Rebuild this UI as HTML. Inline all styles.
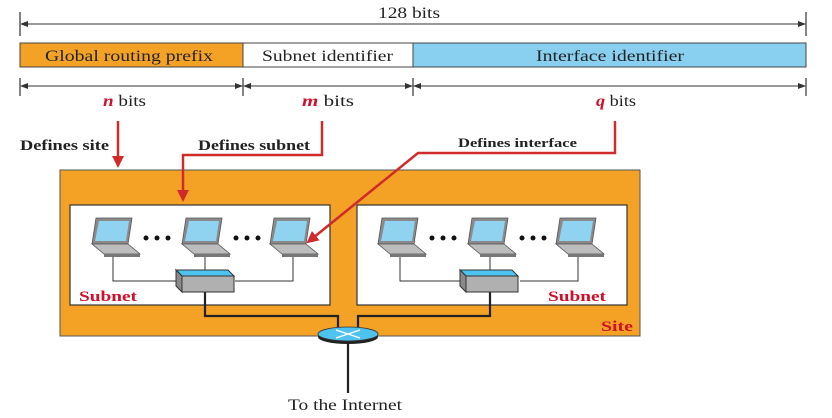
<!DOCTYPE html>
<html><head><meta charset="utf-8"><style>
html,body{margin:0;padding:0;background:#fff;}
svg{display:block;}
text{font-family:"Liberation Serif",serif;}
</style></head><body>
<svg width="832" height="418" viewBox="0 0 832 418" xmlns="http://www.w3.org/2000/svg">
<defs>
<marker id="ah" markerWidth="8" markerHeight="8" refX="7" refY="4" orient="auto-start-reverse" markerUnits="userSpaceOnUse"><path d="M0,1 L8,4 L0,7 Z" fill="#333"/></marker>
<marker id="rh" markerWidth="12" markerHeight="12" refX="10" refY="6" orient="auto" markerUnits="userSpaceOnUse"><path d="M0,0 L12,6 L0,12 Z" fill="#d12a2a"/></marker>
<g id="lap">
<path d="M8,0 L44,0 L40,26 L4,26 Z" fill="#8a8a8a" stroke="#555" stroke-width="0.8"/>
<path d="M11,3 L41,3 L38,23 L7,23 Z" fill="#8fd3f0"/>
<path d="M4,26 L40,26 L52,36 L16,36 Z" fill="#bdbdbd" stroke="#555" stroke-width="0.8"/>
<path d="M16,36 L52,36 L52,39 L16,39 Z" fill="#777"/>
</g>
<g id="sw">
<path d="M0,0 L52,0 L58,6 L6,6 Z" fill="#4fc3f0" stroke="#333" stroke-width="1"/>
<rect x="6" y="6" width="52" height="16" fill="#b0b0b0" stroke="#333" stroke-width="1"/>
<path d="M0,0 L6,6 L6,22 L0,16 Z" fill="#8a8a8a" stroke="#333" stroke-width="1"/>
</g>
</defs>
<line x1="20" y1="12" x2="20" y2="36" stroke="#333" stroke-width="1.2"/>
<line x1="806" y1="12" x2="806" y2="36" stroke="#333" stroke-width="1.2"/>
<line x1="21" y1="24" x2="805" y2="24" stroke="#333" stroke-width="1" marker-start="url(#ah)" marker-end="url(#ah)"/>
<text x="378" y="18" font-size="16" textLength="62" lengthAdjust="spacingAndGlyphs" fill="#222">128 bits</text>
<rect x="20" y="43" width="223" height="24" fill="#f4a226" stroke="#444" stroke-width="1"/>
<rect x="243" y="43" width="170" height="24" fill="#fff" stroke="#444" stroke-width="1"/>
<rect x="413" y="43" width="393" height="24" fill="#88cff0" stroke="#444" stroke-width="1"/>
<text x="45" y="61" font-size="16" textLength="168" lengthAdjust="spacingAndGlyphs" fill="#222">Global routing prefix</text>
<text x="262" y="61" font-size="16" textLength="131" lengthAdjust="spacingAndGlyphs" fill="#222">Subnet identifier</text>
<text x="536" y="61" font-size="16" textLength="148" lengthAdjust="spacingAndGlyphs" fill="#222">Interface identifier</text>
<g stroke="#333" stroke-width="1.2">
<line x1="20" y1="78" x2="20" y2="96"/><line x1="243" y1="78" x2="243" y2="96"/><line x1="413" y1="78" x2="413" y2="96"/><line x1="806" y1="78" x2="806" y2="96"/>
</g>
<g stroke="#333" stroke-width="1">
<line x1="21" y1="86" x2="242" y2="86" marker-start="url(#ah)" marker-end="url(#ah)"/>
<line x1="244" y1="86" x2="412" y2="86" marker-start="url(#ah)" marker-end="url(#ah)"/>
<line x1="414" y1="86" x2="805" y2="86" marker-start="url(#ah)" marker-end="url(#ah)"/>
</g>
<text x="103" y="106" font-size="16" textLength="43" lengthAdjust="spacingAndGlyphs" fill="#222"><tspan fill="#d0102a" font-weight="bold" font-style="italic">n</tspan> bits</text>
<text x="302" y="106" font-size="16" textLength="52" lengthAdjust="spacingAndGlyphs" fill="#222"><tspan fill="#d0102a" font-weight="bold" font-style="italic">m</tspan> bits</text>
<text x="596" y="106" font-size="16" textLength="40" lengthAdjust="spacingAndGlyphs" fill="#222"><tspan fill="#d0102a" font-weight="bold" font-style="italic">q</tspan> bits</text>
<rect x="60" y="170" width="580" height="166" fill="#f4a226" stroke="#555" stroke-width="1"/>
<rect x="70" y="205" width="260" height="100" fill="#fff" stroke="#333" stroke-width="1.2"/>
<rect x="357" y="205" width="270" height="100" fill="#fff" stroke="#333" stroke-width="1.2"/>
<g stroke="#333" stroke-width="1" fill="none">
<polyline points="113,257 113,281 177,281"/>
<line x1="205" y1="257" x2="205" y2="270"/>
<polyline points="293,257 293,281 235,281"/>
<polyline points="400,257 400,281 462,281"/>
<line x1="490" y1="257" x2="490" y2="270"/>
<polyline points="578,257 578,281 520,281"/>
</g>
<g stroke="#222" stroke-width="2.2" fill="none">
<polyline points="205,292 205,316 338,316 338,330"/>
<polyline points="490,292 490,316 358,316 358,330"/>
<line x1="348" y1="340" x2="348" y2="393"/>
</g>
<use href="#lap" x="88" y="218"/><use href="#lap" x="178" y="218"/><use href="#lap" x="266" y="218"/>
<use href="#lap" x="374" y="218"/><use href="#lap" x="464" y="218"/><use href="#lap" x="552" y="218"/>
<g fill="#111">
<circle cx="146" cy="238" r="2.5"/><circle cx="157" cy="238" r="2.5"/><circle cx="168" cy="238" r="2.5"/>
<circle cx="236" cy="238" r="2.5"/><circle cx="247" cy="238" r="2.5"/><circle cx="258" cy="238" r="2.5"/>
<circle cx="432" cy="238" r="2.5"/><circle cx="443" cy="238" r="2.5"/><circle cx="454" cy="238" r="2.5"/>
<circle cx="522" cy="238" r="2.5"/><circle cx="533" cy="238" r="2.5"/><circle cx="544" cy="238" r="2.5"/>
</g>
<use href="#sw" x="176" y="270"/><use href="#sw" x="460" y="270"/>
<ellipse cx="348" cy="337" rx="30" ry="7" fill="#222"/>
<ellipse cx="348" cy="334" rx="30" ry="7" fill="#4fc3f0" stroke="#333" stroke-width="0.8"/>
<g stroke="#fff" stroke-width="1.3"><line x1="336" y1="330" x2="360" y2="338"/><line x1="336" y1="338" x2="360" y2="330"/></g>
<text x="79" y="301" font-size="15" font-weight="bold" textLength="58" lengthAdjust="spacingAndGlyphs" fill="#d0102a">Subnet</text>
<text x="548" y="301" font-size="15" font-weight="bold" textLength="58" lengthAdjust="spacingAndGlyphs" fill="#d0102a">Subnet</text>
<text x="601" y="331" font-size="15" font-weight="bold" textLength="32" lengthAdjust="spacingAndGlyphs" fill="#d0102a">Site</text>
<text x="288" y="410" font-size="16" textLength="114" lengthAdjust="spacingAndGlyphs" fill="#222">To the Internet</text>
<g stroke="#d12a2a" stroke-width="2.5" fill="none">
<line x1="118" y1="121" x2="118" y2="166" marker-end="url(#rh)"/>
<polyline points="322,121 322,155 183,155 183,200" marker-end="url(#rh)"/>
<polyline points="615,121 615,153 418,153 308,242" marker-end="url(#rh)"/>
</g>
<text x="20" y="150" font-size="15" font-weight="bold" textLength="89" lengthAdjust="spacingAndGlyphs" fill="#222">Defines site</text>
<text x="198" y="150" font-size="15" font-weight="bold" textLength="112" lengthAdjust="spacingAndGlyphs" fill="#222">Defines subnet</text>
<text x="458" y="147" font-size="13" font-weight="bold" textLength="119" lengthAdjust="spacingAndGlyphs" fill="#222">Defines interface</text>
</svg>
</body></html>
